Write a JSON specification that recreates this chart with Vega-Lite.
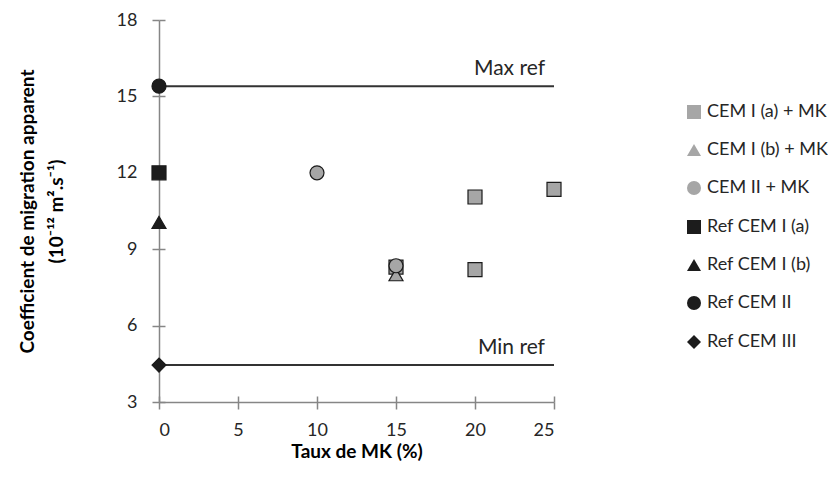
{
  "$schema": "https://vega.github.io/schema/vega-lite/v6.json",
  "width": 395,
  "height": 382,
  "autosize": {"type": "none"},
  "padding": {"left": 159, "top": 20, "right": 274, "bottom": 83},
  "background": "white",
  "config": {"view": {"stroke": null}, "font": "Lato"},
  "resolve": {"axis": {"x": "independent", "y": "independent"}},
  "datasets": {
    "points": [
      {"series": "CEM I (a) + MK", "x": 15, "y": 8.3},
      {"series": "CEM I (a) + MK", "x": 20, "y": 8.2},
      {"series": "CEM I (a) + MK", "x": 20, "y": 11.05},
      {"series": "CEM I (a) + MK", "x": 25, "y": 11.35},
      {"series": "CEM I (b) + MK", "x": 15, "y": 8.0},
      {"series": "CEM II + MK", "x": 10, "y": 12.0},
      {"series": "CEM II + MK", "x": 15, "y": 8.35},
      {"series": "Ref CEM I (a)", "x": 0, "y": 12.0},
      {"series": "Ref CEM I (b)", "x": 0, "y": 10.05},
      {"series": "Ref CEM II", "x": 0, "y": 15.4},
      {"series": "Ref CEM III", "x": 0, "y": 4.45}
    ],
    "refs": [
      {"label": "Max ref", "y": 15.4, "x": 0, "xend": 25},
      {"label": "Min ref", "y": 4.45, "x": 0, "xend": 25}
    ]
  },
  "layer": [
    {
      "data": {"name": "refs"},
      "mark": {"type": "rule", "color": "#333333", "strokeWidth": 2},
      "encoding": {
        "x": {
          "field": "x", "type": "quantitative",
          "scale": {"domain": [0, 25], "nice": false, "zero": false},
          "axis": {"orient": "bottom", "values": [0, 5, 10, 15, 20, 25], "grid": false, "domain": false, "labels": false, "title": null,
            "tickColor": "#868686", "tickWidth": 1.5, "tickSize": -6}
        },
        "x2": {"field": "xend"},
        "y": {
          "field": "y", "type": "quantitative",
          "scale": {"domain": [3, 18], "nice": false, "zero": false},
          "axis": {"orient": "left", "values": [3, 6, 9, 12, 15, 18], "grid": false, "domain": false, "labels": false, "title": null,
            "tickColor": "#868686", "tickWidth": 1.5, "tickSize": -6}
        }
      }
    },
    {
      "data": {"name": "refs"},
      "mark": {"type": "text", "align": "right", "baseline": "alphabetic", "dx": -9, "dy": -11, "fontSize": 21, "color": "#262626", "font": "Lato"},
      "encoding": {
        "x": {"field": "xend", "type": "quantitative", "axis": null},
        "y": {"field": "y", "type": "quantitative", "axis": null},
        "text": {"field": "label"}
      }
    },
    {
      "data": {"name": "points"},
      "mark": {"type": "point", "filled": true, "opacity": 1, "stroke": "#1a1a1a", "strokeWidth": 1.2},
      "encoding": {
        "x": {
          "field": "x", "type": "quantitative",
          "scale": {"domain": [0, 25], "nice": false, "zero": false},
          "axis": {
            "orient": "bottom",
            "values": [0, 5, 10, 15, 20, 25], "grid": false,
            "title": "Taux de MK (%)",
            "domainColor": "#868686", "domainWidth": 1.5,
            "tickColor": "#868686", "tickWidth": 1.5, "tickSize": 7,
            "labelFontSize": 18, "labelColor": "#262626", "labelPadding": 12, "labelFont": "Lato",
            "titleFontSize": 19, "titleFontWeight": "bold", "titleColor": "#000000", "titlePadding": 3, "titleFont": "Lato"
          }
        },
        "y": {
          "field": "y", "type": "quantitative",
          "scale": {"domain": [3, 18], "nice": false, "zero": false},
          "axis": {
            "orient": "left",
            "values": [3, 6, 9, 12, 15, 18], "grid": false,
            "title": ["Coefficient de migration apparent", "(10⁻¹² m².s⁻¹)"],
            "domainColor": "#868686", "domainWidth": 1.5,
            "tickColor": "#868686", "tickWidth": 1.5, "tickSize": 7,
            "labelFontSize": 18, "labelColor": "#262626", "labelPadding": 15, "labelFont": "Lato",
            "titleFontSize": 19, "titleFontWeight": "bold", "titleColor": "#000000", "titlePadding": 50, "titleFont": "Lato", "titleLineHeight": 29
          }
        },
        "shape": {
          "field": "series", "type": "nominal",
          "scale": {
            "domain": ["CEM I (a) + MK", "CEM I (b) + MK", "CEM II + MK", "Ref CEM I (a)", "Ref CEM I (b)", "Ref CEM II", "Ref CEM III"],
            "range": ["square", "triangle-up", "circle", "square", "triangle-up", "circle", "diamond"]
          },
          "legend": {
            "title": null, "orient": "none", "legendX": 526, "legendY": 83,
            "symbolSize": 170, "symbolStrokeColor": "#1a1a1a", "symbolStrokeWidth": 1.2,
            "labelFontSize": 18, "labelColor": "#262626", "labelFont": "Lato",
            "rowPadding": 19, "labelOffset": 4, "symbolOpacity": 1
          }
        },
        "color": {
          "field": "series", "type": "nominal",
          "scale": {
            "domain": ["CEM I (a) + MK", "CEM I (b) + MK", "CEM II + MK", "Ref CEM I (a)", "Ref CEM I (b)", "Ref CEM II", "Ref CEM III"],
            "range": ["#a6a6a6", "#a6a6a6", "#a6a6a6", "#1c1c1c", "#1c1c1c", "#1c1c1c", "#1c1c1c"]
          },
          "legend": {
            "title": null, "orient": "none", "legendX": 526, "legendY": 83,
            "symbolSize": 170, "symbolStrokeColor": "#1a1a1a", "symbolStrokeWidth": 1.2,
            "labelFontSize": 18, "labelColor": "#262626", "labelFont": "Lato",
            "rowPadding": 19, "labelOffset": 4, "symbolOpacity": 1
          }
        },
        "size": {
          "field": "series", "type": "nominal",
          "scale": {
            "domain": ["CEM I (a) + MK", "CEM I (b) + MK", "CEM II + MK", "Ref CEM I (a)", "Ref CEM I (b)", "Ref CEM II", "Ref CEM III"],
            "range": [196, 196, 196, 250, 256, 225, 324]
          },
          "legend": null
        }
      }
    }
  ]
}
